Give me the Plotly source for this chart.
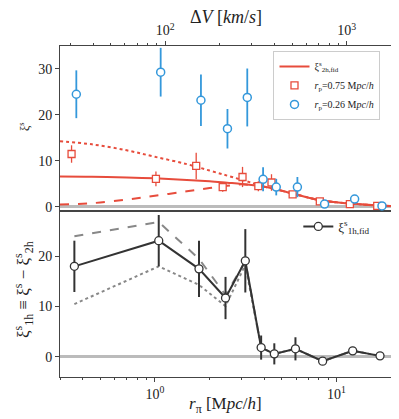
import math

import plotly.graph_objects as go

# r_pi bins (Mpc/h) shared by both panels
R_PI = [0.36, 1.05, 1.75, 2.45, 3.15, 3.85, 4.55, 5.95, 8.4, 12.3, 17.4]

# top panel: xi^s measurements
XI_RP026 = [24.5, 29.3, 23.2, 17.0, 23.8, 6.0, 4.3, 4.3, 0.6, 1.7, 0.2]
ERR_RP026 = [5.2, 5.3, 5.6, 4.3, 6.3, 2.6, 1.8, 2.2, 0.3, 0.9, 0.2]
XI_RP075 = [11.5, 6.1, 8.9, 4.3, 6.5, 4.5, 5.3, 2.7, 1.2, 0.6, 0.2]
ERR_RP075 = [1.9, 1.6, 2.9, 1.0, 2.2, 1.1, 1.8, 0.5, 0.4, 0.3, 0.2]

# top panel: 2-halo model curves
R_MODEL = [0.3, 0.45, 0.7, 1.0, 1.5, 2.0, 2.5, 3.0, 3.5, 4.0, 5.0, 6.0, 8.0, 10.0, 13.0, 17.0, 20.0]
XI2H_FID = [6.6, 6.55, 6.4, 6.2, 5.85, 5.55, 5.25, 5.0, 4.7, 4.4, 3.5, 2.7, 1.5, 1.0, 0.6, 0.3, 0.2]
XI2H_HIGH = [14.3, 13.6, 12.3, 10.9, 9.3, 7.9, 6.8, 5.9, 5.1, 4.4, 3.5, 2.7, 1.5, 1.0, 0.6, 0.3, 0.2]
XI2H_LOW = [0.5, 0.8, 1.6, 2.4, 3.4, 4.1, 4.6, 4.9, 4.7, 4.4, 3.5, 2.7, 1.5, 1.0, 0.6, 0.3, 0.2]

# bottom panel: 1-halo term
XI1H_FID = [18.0, 23.1, 17.5, 11.7, 19.1, 1.85, 0.6, 1.6, -0.85, 1.2, 0.2]
ERR_1H = [5.1, 5.1, 5.6, 4.2, 6.3, 2.4, 2.1, 2.3, 0.3, 0.8, 0.2]
XI1H_LOW2H = [24.0, 26.8, 19.5, 12.3, 19.0, 1.85, 0.6, 1.6, -0.85, 1.2, 0.2]
XI1H_HIGH2H = [10.5, 18.0, 14.3, 10.1, 18.3, 1.85, 0.6, 1.6, -0.85, 1.2, 0.2]

DV_PER_RPI = 87.7  # km/s per Mpc/h
X_RANGE = (0.3, 20.0)

RED = "#e74c3c"
BLUE = "#3498db"
DARK = "#333333"
GREY = "#888888"
AXC = "#444444"
FONT = "Liberation Serif"

# the page body has an 8px margin: size the figure so the plot area lands right
PAGE_PAD = 8
PLOT_H = 331

fig = go.Figure()

# --- top panel ---------------------------------------------------------------
fig.add_trace(go.Scatter(
    x=R_MODEL, y=XI2H_HIGH, mode="lines", line=dict(color=RED, width=2, dash="dot", shape="spline"),
    xaxis="x2", yaxis="y2", showlegend=False, hoverinfo="skip",
))
fig.add_trace(go.Scatter(
    x=R_MODEL, y=XI2H_LOW, mode="lines", line=dict(color=RED, width=2, dash="dash", shape="spline"),
    xaxis="x2", yaxis="y2", showlegend=False, hoverinfo="skip",
))
fig.add_trace(go.Scatter(
    x=R_MODEL, y=XI2H_FID, mode="lines", line=dict(color=RED, width=2, shape="spline"),
    xaxis="x2", yaxis="y2", name="ξ<sup>s</sup><sub>2h,fid</sub>", legend="legend",
))
fig.add_trace(go.Scatter(
    x=[r * 0.965 for r in R_PI], y=XI_RP075, mode="markers",
    marker=dict(symbol="square", size=7, color="white", line=dict(color=RED, width=1.3)),
    error_y=dict(type="data", array=ERR_RP075, color=RED, thickness=1.3, width=0),
    xaxis="x2", yaxis="y2", name="<i>r</i><sub>p</sub>=0.75 M<i>pc</i>/<i>h</i>", legend="legend",
))
fig.add_trace(go.Scatter(
    x=[r * 1.025 for r in R_PI], y=XI_RP026, mode="markers",
    marker=dict(symbol="circle", size=8, color="white", line=dict(color=BLUE, width=1.5)),
    error_y=dict(type="data", array=ERR_RP026, color=BLUE, thickness=1.8, width=0),
    xaxis="x2", yaxis="y2", name="<i>r</i><sub>p</sub>=0.26 M<i>pc</i>/<i>h</i>", legend="legend",
))
# invisible copy on the velocity axis so that the top axis gets drawn
fig.add_trace(go.Scatter(
    x=[r * DV_PER_RPI for r in R_PI], y=XI_RP026, mode="markers",
    marker=dict(opacity=0), xaxis="x3", yaxis="y2", showlegend=False, hoverinfo="skip",
))

# --- bottom panel ------------------------------------------------------------
fig.add_trace(go.Scatter(
    x=R_PI, y=XI1H_LOW2H, mode="lines", line=dict(color=GREY, width=2, dash="dash"),
    xaxis="x", yaxis="y", showlegend=False, hoverinfo="skip",
))
fig.add_trace(go.Scatter(
    x=R_PI, y=XI1H_HIGH2H, mode="lines", line=dict(color=GREY, width=2, dash="dot"),
    xaxis="x", yaxis="y", showlegend=False, hoverinfo="skip",
))
fig.add_trace(go.Scatter(
    x=R_PI, y=XI1H_FID, mode="lines+markers", line=dict(color=DARK, width=2),
    marker=dict(symbol="circle", size=8, color="white", line=dict(color=DARK, width=1.3)),
    error_y=dict(type="data", array=ERR_1H, color=DARK, thickness=2, width=0),
    xaxis="x", yaxis="y", name="ξ<sup>s</sup><sub>1h,fid</sub>", legend="legend2",
))

lx = [math.log10(X_RANGE[0]), math.log10(X_RANGE[1])]
minor_r = [0.3, 0.4, 0.5, 0.6, 0.7, 0.8, 0.9, 2, 3, 4, 5, 6, 7, 8, 9]
minor_v = [30, 40, 50, 60, 70, 80, 90, 200, 300, 400, 500, 600, 700, 800, 900]
frame = dict(showline=True, linecolor=AXC, linewidth=1, mirror=True, showgrid=False, automargin=False)
tickfont = dict(family=FONT, size=14, color="#222")
split = 0.5015

fig.update_layout(
    width=399 - PAGE_PAD, height=419 - PAGE_PAD,
    margin=dict(l=60 - PAGE_PAD, r=8, t=46 - PAGE_PAD, b=419 - PAGE_PAD - (46 - PAGE_PAD) - PLOT_H),
    paper_bgcolor="white", plot_bgcolor="white",
    font=dict(family=FONT, color="#222"),
    xaxis=dict(
        domain=[0, 1], anchor="y", type="log", range=lx,
        tickvals=[1, 10], ticktext=["10<sup>0</sup>", "10<sup>1</sup>"],
        ticks="outside", ticklen=4, tickcolor=AXC, tickfont=tickfont,
        minor=dict(tickvals=minor_r, ticks="outside", ticklen=2, tickcolor=AXC),
        zeroline=False, **frame,
    ),
    yaxis=dict(
        domain=[0, split], anchor="x", range=[-4, 29],
        tickvals=[0, 10, 20], ticks="outside", ticklen=4, tickcolor=AXC, tickfont=tickfont,
        zeroline=True, zerolinecolor="#bbbbbb", zerolinewidth=2.5,
        **frame,
    ),
    xaxis2=dict(
        domain=[0, 1], anchor="y2", type="log", range=lx, matches="x",
        showticklabels=False, ticks="", zeroline=False, **frame,
    ),
    yaxis2=dict(
        domain=[split, 1], anchor="x2", range=[-0.9, 35],
        tickvals=[0, 10, 20, 30], ticks="outside", ticklen=4, tickcolor=AXC, tickfont=tickfont,
        zeroline=True, zerolinecolor="#bbbbbb", zerolinewidth=2.5,
        **frame,
    ),
    xaxis3=dict(
        overlaying="x2", anchor="y2", side="top", type="log",
        range=[v + math.log10(DV_PER_RPI) for v in lx],
        tickvals=[100, 1000], ticktext=["10<sup>2</sup>", "10<sup>3</sup>"],
        ticks="outside", ticklen=4, tickcolor=AXC, tickfont=tickfont,
        minor=dict(tickvals=minor_v, ticks="outside", ticklen=2, tickcolor=AXC),
        showline=True, linecolor=AXC, showgrid=False, zeroline=False, automargin=False,
    ),
    legend=dict(
        x=0.645, y=0.985, xanchor="left", yanchor="top",
        bgcolor="rgba(255,255,255,0.9)", bordercolor="#cccccc", borderwidth=1,
        font=dict(family=FONT, size=10), tracegroupgap=0, itemwidth=30,
    ),
    legend2=dict(
        x=0.72, y=0.5, xanchor="left", yanchor="top",
        bgcolor="rgba(0,0,0,0)", borderwidth=0,
        font=dict(family=FONT, size=13), itemwidth=30,
    ),
    annotations=[
        dict(text="Δ<i>V</i> [<i>km</i>/<i>s</i>]", xref="paper", yref="paper",
             x=0.5, y=1.0 + 29 / PLOT_H, xanchor="center", yanchor="middle",
             showarrow=False, font=dict(family=FONT, size=18)),
        dict(text="<i>r</i><sub>π</sub> [M<i>pc</i>/<i>h</i>]", xref="paper", yref="paper",
             x=0.5, y=-28 / PLOT_H, xanchor="center", yanchor="middle",
             showarrow=False, font=dict(family=FONT, size=17)),
        dict(text="ξ<sup>s</sup>", xref="paper", yref="paper",
             x=-35 / 331, y=(377 - 127) / PLOT_H, xanchor="center", yanchor="middle",
             textangle=-90, showarrow=False, font=dict(family=FONT, size=12)),
        dict(text="ξ<sup>s</sup><sub>1h</sub> ≡ ξ<sup>s</sup> − ξ<sup>s</sup><sub>2h</sub>",
             xref="paper", yref="paper",
             x=-37 / 331, y=(377 - 290) / PLOT_H, xanchor="center", yanchor="middle",
             textangle=-90, showarrow=False, font=dict(family=FONT, size=17)),
    ],
)

fig.write_html("out.html")
